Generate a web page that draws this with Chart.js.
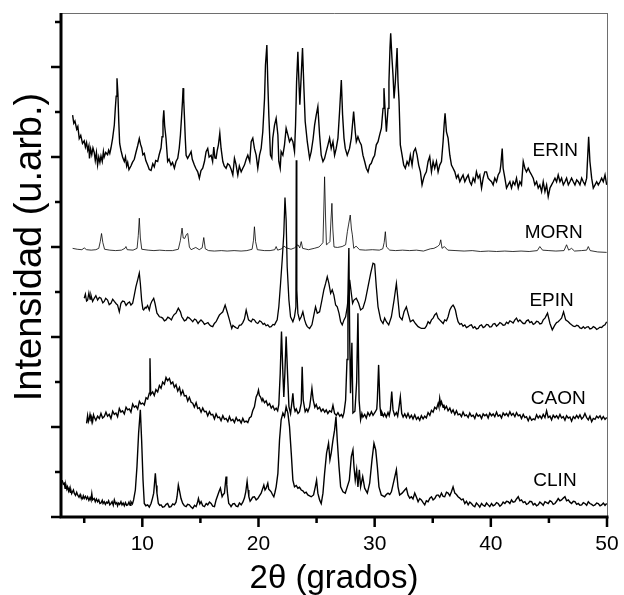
<!DOCTYPE html>
<html>
<head>
<meta charset="utf-8">
<script src="https://cdn.jsdelivr.net/npm/chart.js@4.4.1/dist/chart.umd.min.js"></script>
<style>
body { margin: 0; background: #fff; }
</style>
</head>
<body>
<canvas id="xrdChart" width="624" height="595"></canvas>
<script>
// 2theta (deg) / stacked intensity (arb. units, 1 unit = one y tick)
let erin = [
[4.00,8.93],[4.10,8.75],[4.20,8.80],[4.35,8.62],[4.45,8.68],[4.57,8.41],[4.70,8.48],[4.85,8.30],[5.00,8.36],[5.10,8.22],
[5.20,8.32],[5.30,8.15],[5.40,8.25],[5.45,7.97],[5.55,8.18],[5.65,8.05],[5.75,8.20],[5.86,8.10],[5.95,7.92],[6.05,8.10],
[6.15,7.82],[6.25,8.00],[6.35,7.88],[6.44,8.02],[6.55,7.90],[6.65,8.12],[6.72,8.00],[6.85,8.10],[7.01,8.05],[7.10,8.15],
[7.20,8.08],[7.30,8.20],[7.44,8.41],[7.59,8.71],[7.68,9.10],[7.75,9.35],[7.82,9.75],[7.90,9.40],[7.97,8.80],[8.05,8.30],
[8.16,8.15],[8.30,8.00],[8.45,7.90],[8.55,8.00],[8.65,7.80],[8.74,7.88],[8.85,7.72],[9.02,7.80],[9.15,7.88],[9.31,7.95],
[9.45,8.10],[9.60,8.25],[9.74,8.41],[9.85,8.28],[9.95,8.20],[10.05,8.05],[10.17,8.08],[10.30,7.92],[10.46,7.82],[10.60,7.72],
[10.75,7.70],[10.90,7.85],[11.03,7.78],[11.15,7.92],[11.32,7.90],[11.45,8.05],[11.61,8.20],[11.70,8.45],[11.78,8.80],[11.85,9.04],
[11.92,8.70],[12.04,8.41],[12.18,7.90],[12.30,7.95],[12.47,7.82],[12.60,7.88],[12.76,7.75],[12.90,7.90],[13.05,7.97],[13.18,8.20],
[13.28,8.49],[13.38,8.90],[13.46,9.25],[13.51,9.53],[13.56,9.30],[13.62,8.93],[13.70,8.40],[13.77,8.04],[13.90,7.97],[14.05,8.04],
[14.20,8.12],[14.30,7.95],[14.48,7.82],[14.60,7.75],[14.77,7.67],[14.91,7.53],[15.05,7.70],[15.20,7.75],[15.35,7.90],[15.49,8.12],
[15.63,8.19],[15.75,8.00],[15.92,8.04],[16.05,7.90],[16.15,8.22],[16.25,7.98],[16.35,7.97],[16.45,8.15],[16.55,8.27],[16.67,8.53],
[16.78,8.19],[16.93,7.90],[17.05,7.80],[17.21,7.75],[17.35,7.85],[17.50,7.82],[17.65,7.72],[17.79,7.60],[17.93,7.97],[18.05,7.85],
[18.22,7.60],[18.35,7.80],[18.51,7.67],[18.65,7.75],[18.79,7.82],[18.94,7.95],[19.08,8.04],[19.25,7.90],[19.37,8.34],[19.51,8.42],
[19.65,8.19],[19.80,8.04],[19.94,7.75],[20.09,8.04],[20.23,8.19],[20.37,8.56],[20.52,9.30],[20.60,10.04],[20.72,10.49],[20.80,9.67],
[20.89,8.93],[21.03,8.04],[21.15,7.97],[21.23,8.42],[21.38,8.71],[21.52,8.86],[21.67,8.49],[21.75,7.90],[21.87,7.75],[21.95,8.12],
[22.10,8.04],[22.24,8.27],[22.38,8.64],[22.53,8.49],[22.67,8.34],[22.82,8.42],[22.96,8.34],[23.10,8.12],[23.19,8.71],[23.28,9.67],
[23.39,10.34],[23.48,9.67],[23.56,9.16],[23.68,9.82],[23.79,10.42],[23.91,9.53],[24.02,8.79],[24.20,8.34],[24.40,7.97],[24.54,8.12],
[24.70,8.40],[24.83,8.71],[24.97,8.93],[25.11,9.12],[25.26,8.49],[25.40,8.04],[25.55,7.90],[25.69,7.97],[25.83,8.12],[25.98,8.27],
[26.12,8.42],[26.26,8.19],[26.41,8.34],[26.55,8.04],[26.69,8.19],[26.84,8.42],[26.98,9.01],[27.13,9.71],[27.24,8.93],[27.36,8.42],
[27.47,8.19],[27.64,8.04],[27.84,8.19],[27.99,8.42],[28.19,9.01],[28.33,8.56],[28.42,8.34],[28.56,8.45],[28.71,8.34],[28.85,8.27],
[28.99,8.04],[29.14,7.90],[29.28,7.75],[29.43,7.67],[29.57,7.82],[29.71,7.86],[29.86,7.97],[30.00,8.04],[30.14,8.27],[30.29,8.34],
[30.43,8.49],[30.58,8.64],[30.72,9.08],[30.80,9.53],[30.92,8.93],[31.01,8.56],[31.15,9.08],[31.23,9.67],[31.32,10.42],[31.38,10.75],
[31.49,10.19],[31.58,9.82],[31.67,9.30],[31.78,9.67],[31.93,10.42],[32.01,9.67],[32.10,9.23],[32.21,8.27],[32.36,8.04],[32.50,7.82],
[32.64,7.75],[32.79,7.90],[32.93,7.82],[33.07,8.04],[33.22,7.82],[33.36,8.12],[33.51,8.19],[33.65,8.04],[33.79,7.82],[33.94,7.67],
[34.08,7.38],[34.22,7.53],[34.31,7.60],[34.45,7.67],[34.60,7.90],[34.74,8.01],[34.89,7.67],[35.03,7.90],[35.17,7.75],[35.32,7.90],
[35.46,7.67],[35.60,7.82],[35.75,7.90],[35.89,8.34],[35.98,8.71],[36.06,8.97],[36.18,8.56],[36.32,8.42],[36.47,8.04],[36.61,7.82],
[36.75,7.75],[36.90,7.67],[37.04,7.53],[37.18,7.60],[37.33,7.45],[37.47,7.53],[37.61,7.60],[37.76,7.45],[37.90,7.53],[38.05,7.60],
[38.19,7.45],[38.33,7.38],[38.48,7.53],[38.62,7.45],[38.76,7.67],[38.91,7.53],[39.05,7.60],[39.20,7.31],[39.34,7.53],[39.48,7.67],
[39.63,7.67],[39.77,7.53],[39.91,7.49],[40.06,7.45],[40.20,7.38],[40.34,7.53],[40.49,7.45],[40.63,7.60],[40.78,7.67],[40.86,7.82],
[40.98,8.19],[41.06,7.75],[41.21,7.53],[41.35,7.31],[41.49,7.38],[41.64,7.45],[41.78,7.31],[41.92,7.45],[42.07,7.38],[42.21,7.53],
[42.36,7.31],[42.50,7.45],[42.64,7.38],[42.79,7.90],[42.93,7.75],[43.07,7.67],[43.22,7.75],[43.36,7.67],[43.51,7.60],[43.65,7.53],
[43.79,7.38],[43.94,7.45],[44.08,7.31],[44.22,7.38],[44.37,7.23],[44.51,7.45],[44.66,7.23],[44.80,7.38],[44.94,7.12],[45.09,7.31],
[45.23,7.38],[45.37,7.45],[45.52,7.53],[45.66,7.45],[45.80,7.60],[45.95,7.45],[46.09,7.53],[46.24,7.38],[46.38,7.45],[46.52,7.53],
[46.67,7.38],[46.81,7.45],[46.95,7.53],[47.10,7.45],[47.24,7.38],[47.39,7.49],[47.53,7.45],[47.67,7.38],[47.82,7.53],[47.96,7.45],
[48.10,7.38],[48.25,7.53],[48.33,7.97],[48.42,8.45],[48.53,7.90],[48.68,7.53],[48.82,7.31],[48.97,7.38],[49.11,7.45],[49.25,7.38],
[49.40,7.45],[49.54,7.53],[49.68,7.45],[49.83,7.60],[49.97,7.38]
];

let morn = [
[4.00,5.97],[4.40,5.95],[4.80,5.94],[5.00,5.98],[5.20,5.94],[5.60,5.93],[6.00,5.94],[6.25,5.97],[6.38,6.12],[6.49,6.30],
[6.60,6.10],[6.75,5.95],[7.20,5.93],[7.70,5.92],[8.20,5.93],[8.50,5.97],[8.59,6.01],[8.70,5.94],[9.20,5.93],[9.55,5.97],
[9.65,6.25],[9.74,6.64],[9.83,6.20],[9.95,5.95],[10.50,5.93],[11.00,5.92],[11.50,5.93],[12.00,5.92],[12.60,5.92],[13.10,5.95],
[13.28,6.15],[13.42,6.42],[13.52,6.20],[13.65,6.19],[13.80,6.28],[13.91,6.30],[14.05,6.00],[14.20,5.94],[14.60,5.99],[14.90,5.94],
[15.15,5.98],[15.29,6.21],[15.42,5.96],[15.70,5.92],[16.20,5.91],[16.80,5.92],[17.30,5.91],[17.90,5.92],[18.50,5.91],[19.00,5.92],
[19.45,5.95],[19.57,6.15],[19.65,6.45],[19.75,6.12],[19.90,5.94],[20.50,5.92],[21.00,5.92],[21.40,5.94],[21.52,6.01],[21.65,5.93],
[22.00,5.96],[22.20,6.02],[22.40,5.98],[22.80,5.95],[23.10,5.98],[23.40,6.05],[23.55,5.98],[23.68,6.12],[23.80,5.97],[24.30,5.94],
[24.80,5.97],[25.20,6.00],[25.40,6.05],[25.55,6.10],[25.62,6.80],[25.69,7.56],[25.78,6.60],[25.85,6.05],[26.00,6.08],[26.15,6.12],
[26.24,6.60],[26.32,6.97],[26.40,6.40],[26.50,6.00],[26.80,5.99],[27.20,6.01],[27.50,6.05],[27.65,6.34],[27.75,6.49],[27.90,6.71],
[28.00,6.40],[28.08,6.27],[28.20,5.97],[28.40,6.02],[28.70,5.94],[29.20,5.93],[29.80,5.94],[30.40,5.93],[30.70,5.96],[30.82,6.10],
[30.92,6.34],[31.02,6.00],[31.30,5.93],[31.80,5.92],[32.40,5.93],[33.00,5.92],[33.60,5.93],[34.20,5.91],[34.80,5.96],[35.10,5.97],
[35.40,6.01],[35.58,6.05],[35.69,6.16],[35.80,5.97],[36.00,6.01],[36.30,5.93],[37.00,5.92],[37.70,5.91],[38.40,5.92],[39.10,5.90],
[39.80,5.91],[40.50,5.90],[41.20,5.91],[41.90,5.90],[42.60,5.91],[43.30,5.90],[44.00,5.92],[44.22,6.01],[44.45,5.93],[45.00,5.92],
[45.60,5.91],[46.30,5.92],[46.52,6.05],[46.70,5.93],[46.95,5.97],[47.20,5.91],[47.80,5.92],[48.25,5.93],[48.39,6.01],[48.55,5.92],
[49.20,5.89],[49.97,5.88]
];

let epin = [
[5.00,4.86],[5.10,4.95],[5.20,4.80],[5.29,4.82],[5.40,4.98],[5.50,4.84],[5.58,4.93],[5.72,4.79],[5.86,4.86],[6.00,4.92],
[6.15,4.82],[6.30,4.88],[6.44,4.86],[6.60,4.76],[6.72,4.79],[6.85,4.86],[7.01,4.82],[7.15,4.72],[7.30,4.75],[7.45,4.84],
[7.59,4.79],[7.75,4.74],[7.87,4.71],[8.02,4.56],[8.16,4.75],[8.30,4.80],[8.45,4.79],[8.60,4.70],[8.74,4.75],[8.90,4.78],
[9.02,4.71],[9.17,4.75],[9.31,4.93],[9.45,5.12],[9.60,5.27],[9.74,5.42],[9.83,5.19],[9.94,4.82],[10.05,4.62],[10.12,4.60],
[10.25,4.66],[10.32,4.64],[10.45,4.70],[10.60,4.60],[10.70,4.72],[10.81,4.79],[10.98,4.86],[11.09,4.75],[11.26,4.53],[11.40,4.48],
[11.47,4.45],[11.60,4.44],[11.75,4.42],[11.90,4.36],[12.04,4.38],[12.20,4.44],[12.33,4.42],[12.50,4.38],[12.62,4.45],[12.75,4.50],
[12.90,4.53],[13.10,4.64],[13.28,4.56],[13.40,4.45],[13.48,4.42],[13.62,4.36],[13.77,4.38],[13.90,4.44],[14.05,4.42],[14.20,4.38],
[14.34,4.34],[14.50,4.40],[14.63,4.38],[14.80,4.30],[14.91,4.34],[15.05,4.38],[15.20,4.34],[15.35,4.28],[15.49,4.30],[15.65,4.32],
[15.78,4.27],[15.92,4.24],[16.06,4.23],[16.20,4.30],[16.35,4.34],[16.50,4.42],[16.64,4.49],[16.80,4.53],[16.93,4.56],[17.13,4.71],
[17.30,4.56],[17.50,4.38],[17.60,4.28],[17.70,4.19],[17.80,4.26],[17.93,4.23],[18.10,4.20],[18.22,4.19],[18.35,4.26],[18.51,4.27],
[18.65,4.32],[18.79,4.40],[18.94,4.60],[19.14,4.38],[19.37,4.34],[19.50,4.40],[19.65,4.38],[19.80,4.32],[19.94,4.30],[20.10,4.36],
[20.23,4.34],[20.40,4.28],[20.52,4.30],[20.65,4.25],[20.80,4.27],[20.95,4.22],[21.09,4.23],[21.25,4.28],[21.38,4.27],[21.50,4.33],
[21.61,4.38],[21.75,4.67],[21.90,5.19],[22.04,5.71],[22.18,6.30],[22.28,7.10],[22.38,6.60],[22.47,5.56],[22.62,4.82],[22.76,4.45],
[22.96,4.34],[23.10,4.45],[23.22,4.67],[23.25,7.93],[23.30,5.05],[23.39,4.53],[23.53,4.38],[23.68,4.45],[23.82,4.56],[23.97,4.38],
[24.10,4.28],[24.20,4.23],[24.40,4.19],[24.60,4.27],[24.77,4.49],[24.91,4.67],[25.06,4.53],[25.26,4.56],[25.46,4.82],[25.63,5.05],
[25.78,5.19],[25.92,5.34],[26.06,5.19],[26.21,4.97],[26.35,5.05],[26.49,4.93],[26.64,4.71],[26.78,4.67],[26.93,4.53],[27.07,4.34],
[27.21,4.27],[27.36,4.38],[27.50,4.45],[27.64,4.67],[27.78,5.00],[27.85,5.27],[27.99,4.97],[28.10,4.75],[28.22,4.82],[28.42,4.86],
[28.62,4.75],[28.79,4.60],[28.99,4.64],[29.20,4.82],[29.43,5.12],[29.66,5.42],[29.86,5.64],[30.00,5.62],[30.14,5.12],[30.29,4.67],
[30.52,4.38],[30.72,4.30],[30.86,4.42],[31.01,4.34],[31.21,4.27],[31.44,4.45],[31.67,4.82],[31.87,5.19],[32.01,4.82],[32.15,4.45],
[32.36,4.38],[32.53,4.56],[32.73,4.67],[32.87,4.53],[33.07,4.34],[33.30,4.38],[33.51,4.30],[33.74,4.23],[34.02,4.19],[34.31,4.19],
[34.45,4.24],[34.60,4.34],[34.75,4.30],[34.89,4.38],[35.03,4.42],[35.17,4.49],[35.32,4.53],[35.46,4.42],[35.60,4.38],[35.75,4.34],
[35.90,4.30],[36.03,4.38],[36.18,4.36],[36.32,4.45],[36.47,4.60],[36.61,4.67],[36.75,4.71],[36.84,4.67],[36.95,4.60],[37.07,4.45],
[37.18,4.34],[37.33,4.28],[37.47,4.30],[37.61,4.24],[37.76,4.27],[37.90,4.21],[38.05,4.23],[38.19,4.26],[38.33,4.27],[38.48,4.20],
[38.62,4.23],[38.76,4.18],[38.91,4.19],[39.05,4.25],[39.20,4.27],[39.34,4.21],[39.48,4.23],[39.63,4.28],[39.77,4.27],[39.91,4.22],
[40.06,4.23],[40.20,4.29],[40.34,4.30],[40.49,4.24],[40.63,4.27],[40.78,4.32],[40.92,4.30],[41.06,4.26],[41.21,4.27],[41.35,4.33],
[41.49,4.30],[41.64,4.36],[41.78,4.34],[41.92,4.31],[42.07,4.38],[42.21,4.42],[42.36,4.34],[42.50,4.38],[42.64,4.34],[42.79,4.30],
[42.93,4.30],[43.07,4.36],[43.22,4.38],[43.36,4.32],[43.51,4.34],[43.65,4.28],[43.79,4.30],[43.94,4.35],[44.08,4.34],[44.22,4.29],
[44.37,4.30],[44.51,4.38],[44.66,4.42],[44.88,4.53],[45.09,4.30],[45.29,4.16],[45.52,4.27],[45.66,4.32],[45.80,4.34],[45.95,4.38],
[46.09,4.42],[46.26,4.56],[46.44,4.38],[46.67,4.34],[46.81,4.30],[46.95,4.27],[47.10,4.24],[47.24,4.23],[47.39,4.26],[47.53,4.25],
[47.67,4.20],[47.82,4.19],[47.96,4.23],[48.10,4.19],[48.25,4.22],[48.39,4.23],[48.53,4.18],[48.68,4.19],[48.82,4.23],[48.97,4.21],
[49.11,4.17],[49.25,4.19],[49.40,4.22],[49.54,4.21],[49.68,4.25],[49.83,4.27],[49.97,4.34]
];

let caon = [
[5.20,2.08],[5.29,2.25],[5.36,2.12],[5.43,2.17],[5.50,2.28],[5.58,2.18],[5.65,2.21],[5.72,2.12],[5.80,2.27],[5.86,2.22],
[6.00,2.15],[6.15,2.24],[6.30,2.19],[6.44,2.30],[6.58,2.20],[6.72,2.23],[6.87,2.33],[7.01,2.24],[7.15,2.28],[7.30,2.19],
[7.45,2.35],[7.59,2.28],[7.73,2.31],[7.87,2.23],[8.02,2.41],[8.16,2.33],[8.30,2.36],[8.45,2.29],[8.60,2.44],[8.74,2.38],
[8.88,2.40],[9.02,2.33],[9.17,2.51],[9.31,2.44],[9.45,2.47],[9.60,2.40],[9.75,2.57],[9.89,2.51],[10.03,2.53],[10.17,2.49],
[10.32,2.65],[10.46,2.62],[10.60,2.75],[10.66,3.53],[10.72,2.72],[10.89,2.78],[11.03,2.70],[11.17,2.83],[11.32,2.78],[11.47,2.92],
[11.61,2.86],[11.75,3.00],[11.90,2.95],[12.04,3.10],[12.18,3.03],[12.33,3.08],[12.47,2.96],[12.62,3.00],[12.76,2.88],[12.90,2.94],
[13.05,2.80],[13.20,2.88],[13.33,2.72],[13.48,2.81],[13.62,2.69],[13.77,2.70],[13.91,2.58],[14.05,2.66],[14.20,2.55],[14.34,2.53],
[14.48,2.44],[14.63,2.54],[14.77,2.41],[14.91,2.43],[15.06,2.33],[15.20,2.42],[15.35,2.34],[15.49,2.35],[15.63,2.25],[15.78,2.34],
[15.92,2.27],[16.06,2.28],[16.21,2.18],[16.35,2.29],[16.50,2.21],[16.64,2.22],[16.78,2.14],[16.93,2.25],[17.07,2.17],[17.21,2.19],
[17.36,2.12],[17.50,2.23],[17.64,2.14],[17.79,2.17],[17.93,2.10],[18.08,2.21],[18.22,2.14],[18.36,2.16],[18.51,2.09],[18.65,2.19],
[18.79,2.11],[18.94,2.13],[19.08,2.10],[19.22,2.20],[19.37,2.23],[19.50,2.36],[19.65,2.45],[19.80,2.67],[19.92,2.74],[20.00,2.82],
[20.08,2.70],[20.17,2.67],[20.30,2.58],[20.37,2.63],[20.52,2.54],[20.66,2.58],[20.80,2.48],[20.95,2.52],[21.10,2.42],[21.24,2.47],
[21.38,2.38],[21.52,2.42],[21.65,2.36],[21.75,2.50],[21.87,3.19],[21.98,4.12],[22.10,3.19],[22.18,2.67],[22.27,3.19],[22.38,4.01],
[22.50,3.19],[22.62,2.45],[22.76,2.30],[22.87,2.53],[22.96,2.75],[23.05,2.45],[23.15,2.35],[23.25,2.40],[23.40,2.30],[23.53,2.34],
[23.68,2.53],[23.76,3.34],[23.85,2.60],[24.02,2.34],[24.15,2.40],[24.25,2.34],[24.40,2.45],[24.48,2.60],[24.60,2.86],[24.71,2.60],
[24.85,2.44],[24.97,2.50],[25.10,2.40],[25.26,2.44],[25.40,2.35],[25.55,2.40],[25.70,2.33],[25.83,2.38],[25.97,2.30],[26.12,2.36],
[26.28,2.33],[26.41,2.48],[26.55,2.30],[26.70,2.26],[26.84,2.32],[27.00,2.24],[27.13,2.28],[27.25,2.22],[27.36,2.32],[27.50,2.60],
[27.62,3.50],[27.70,4.90],[27.78,5.98],[27.85,4.00],[27.92,2.75],[28.04,3.87],[28.13,2.31],[28.30,2.35],[28.45,3.00],[28.56,4.53],
[28.66,2.60],[28.79,2.16],[28.90,2.30],[28.99,2.22],[29.14,2.28],[29.28,2.20],[29.42,2.32],[29.57,2.25],[29.72,2.34],[29.86,2.26],
[30.06,2.34],[30.18,2.40],[30.23,2.60],[30.34,3.38],[30.46,2.45],[30.55,2.26],[30.63,2.32],[30.75,2.24],[30.86,2.30],[31.00,2.22],
[31.15,2.32],[31.25,2.25],[31.35,2.38],[31.47,2.79],[31.58,2.38],[31.72,2.26],[31.87,2.32],[31.98,2.24],[32.10,2.45],[32.21,2.67],
[32.33,2.30],[32.45,2.22],[32.59,2.29],[32.73,2.21],[32.87,2.30],[33.02,2.20],[33.16,2.26],[33.30,2.18],[33.45,2.27],[33.60,2.17],
[33.74,2.22],[33.88,2.15],[34.02,2.25],[34.17,2.18],[34.31,2.24],[34.45,2.20],[34.60,2.32],[34.75,2.26],[34.89,2.37],[35.03,2.33],
[35.17,2.44],[35.32,2.40],[35.46,2.52],[35.53,2.45],[35.60,2.64],[35.68,2.50],[35.75,2.56],[35.89,2.44],[35.96,2.50],[36.03,2.40],
[36.18,2.46],[36.32,2.36],[36.47,2.42],[36.61,2.32],[36.75,2.38],[36.90,2.28],[37.04,2.36],[37.18,2.27],[37.33,2.29],[37.47,2.23],
[37.61,2.33],[37.76,2.25],[37.90,2.27],[38.05,2.21],[38.19,2.31],[38.33,2.24],[38.48,2.26],[38.62,2.19],[38.76,2.30],[38.91,2.24],
[39.05,2.27],[39.20,2.19],[39.34,2.29],[39.48,2.25],[39.63,2.28],[39.77,2.20],[39.91,2.31],[40.06,2.25],[40.20,2.29],[40.34,2.23],
[40.49,2.33],[40.63,2.24],[40.78,2.27],[40.92,2.20],[41.06,2.31],[41.21,2.26],[41.35,2.30],[41.49,2.24],[41.64,2.34],[41.78,2.26],
[41.92,2.30],[42.07,2.23],[42.21,2.32],[42.36,2.25],[42.50,2.27],[42.64,2.19],[42.79,2.28],[42.93,2.21],[43.07,2.23],[43.22,2.14],
[43.36,2.23],[43.51,2.15],[43.65,2.18],[43.79,2.16],[43.94,2.27],[44.08,2.20],[44.22,2.25],[44.37,2.19],[44.51,2.28],[44.66,2.21],
[44.80,2.36],[44.94,2.21],[45.09,2.24],[45.23,2.16],[45.37,2.26],[45.52,2.21],[45.66,2.25],[45.80,2.19],[45.95,2.28],[46.09,2.20],
[46.24,2.23],[46.38,2.15],[46.52,2.25],[46.67,2.20],[46.81,2.22],[46.95,2.13],[47.10,2.23],[47.24,2.19],[47.39,2.26],[47.53,2.20],
[47.67,2.27],[47.82,2.18],[47.96,2.22],[48.10,2.30],[48.25,2.21],[48.39,2.16],[48.53,2.24],[48.68,2.12],[48.82,2.19],[48.97,2.17],
[49.11,2.24],[49.25,2.20],[49.40,2.25],[49.54,2.17],[49.68,2.23],[49.83,2.17],[49.97,2.21]
];

let clin = [
[3.10,0.82],[3.20,0.73],[3.28,0.75],[3.35,0.64],[3.42,0.71],[3.50,0.62],[3.56,0.67],[3.65,0.58],[3.71,0.64],[3.80,0.55],
[3.85,0.60],[3.92,0.52],[3.99,0.56],[4.07,0.60],[4.14,0.53],[4.25,0.48],[4.35,0.55],[4.43,0.49],[4.55,0.44],[4.65,0.50],
[4.71,0.45],[4.85,0.41],[4.92,0.47],[5.00,0.41],[5.10,0.46],[5.20,0.40],[5.29,0.45],[5.40,0.37],[5.50,0.43],[5.58,0.38],
[5.65,0.52],[5.72,0.38],[5.86,0.41],[5.95,0.34],[6.05,0.40],[6.15,0.34],[6.25,0.38],[6.35,0.30],[6.44,0.31],[6.55,0.37],
[6.62,0.30],[6.72,0.34],[6.82,0.28],[6.92,0.33],[7.01,0.31],[7.10,0.36],[7.20,0.27],[7.30,0.30],[7.40,0.34],[7.50,0.26],
[7.59,0.38],[7.70,0.29],[7.80,0.32],[7.87,0.25],[7.95,0.31],[8.05,0.28],[8.16,0.34],[8.25,0.27],[8.35,0.31],[8.45,0.25],
[8.55,0.32],[8.65,0.26],[8.74,0.27],[8.85,0.33],[8.95,0.26],[9.02,0.34],[9.15,0.29],[9.25,0.38],[9.40,0.60],[9.54,1.12],
[9.68,1.86],[9.83,2.38],[9.94,1.71],[10.06,0.82],[10.17,0.30],[10.30,0.25],[10.46,0.27],[10.60,0.22],[10.75,0.30],[10.88,0.42],
[10.98,0.53],[11.05,0.75],[11.12,0.97],[11.20,0.70],[11.26,0.53],[11.38,0.30],[11.50,0.26],[11.61,0.27],[11.75,0.22],[11.90,0.23],
[12.05,0.28],[12.18,0.30],[12.32,0.22],[12.47,0.23],[12.62,0.29],[12.76,0.27],[12.90,0.33],[12.99,0.45],[13.10,0.71],[13.22,0.56],
[13.33,0.41],[13.48,0.30],[13.62,0.25],[13.77,0.23],[13.90,0.28],[14.05,0.27],[14.20,0.22],[14.34,0.19],[14.50,0.26],[14.63,0.23],
[14.75,0.32],[14.83,0.41],[14.95,0.29],[15.06,0.34],[15.20,0.25],[15.35,0.23],[15.50,0.30],[15.63,0.27],[15.78,0.33],[15.92,0.30],
[16.06,0.24],[16.21,0.23],[16.35,0.38],[16.50,0.49],[16.62,0.58],[16.72,0.64],[16.87,0.45],[16.97,0.50],[17.07,0.53],[17.15,0.75],
[17.21,0.90],[17.27,0.72],[17.33,0.53],[17.44,0.30],[17.55,0.27],[17.64,0.23],[17.79,0.29],[17.93,0.30],[18.08,0.24],[18.22,0.23],
[18.36,0.31],[18.51,0.27],[18.65,0.33],[18.79,0.42],[18.90,0.55],[19.02,0.79],[19.10,0.60],[19.17,0.45],[19.28,0.35],[19.37,0.38],
[19.50,0.44],[19.65,0.45],[19.80,0.38],[19.94,0.41],[20.08,0.47],[20.23,0.53],[20.35,0.62],[20.46,0.71],[20.56,0.60],[20.66,0.64],
[20.80,0.75],[20.88,0.62],[20.95,0.60],[21.09,0.56],[21.20,0.50],[21.32,0.45],[21.42,0.55],[21.52,0.67],[21.67,0.97],[21.81,1.71],
[21.95,2.16],[22.10,2.31],[22.24,2.23],[22.38,2.45],[22.53,2.31],[22.67,2.01],[22.82,1.42],[22.96,0.82],[23.10,0.67],[23.25,0.70],
[23.39,0.64],[23.53,0.66],[23.68,0.60],[23.82,0.58],[23.97,0.53],[24.10,0.55],[24.25,0.49],[24.40,0.47],[24.54,0.45],[24.74,0.49],
[24.89,0.67],[25.00,0.82],[25.11,0.53],[25.26,0.38],[25.40,0.30],[25.55,0.53],[25.69,0.97],[25.86,1.42],[26.03,1.64],[26.15,1.27],
[26.26,1.42],[26.41,1.71],[26.55,1.93],[26.67,2.23],[26.78,1.71],[26.93,1.12],[27.07,0.67],[27.27,0.56],[27.47,0.53],[27.64,0.67],
[27.82,0.82],[27.99,1.34],[28.13,1.49],[28.22,1.12],[28.33,0.82],[28.45,1.05],[28.56,0.67],[28.68,1.05],[28.79,0.67],[28.97,0.90],
[29.14,0.64],[29.37,0.53],[29.57,0.75],[29.77,1.27],[29.94,1.64],[30.09,1.49],[30.23,1.12],[30.37,0.67],[30.57,0.49],[30.86,0.45],
[31.00,0.50],[31.15,0.53],[31.30,0.50],[31.44,0.56],[31.67,0.82],[31.87,1.05],[32.01,0.67],[32.15,0.49],[32.36,0.53],[32.59,0.60],
[32.73,0.64],[32.87,0.49],[33.02,0.42],[33.16,0.45],[33.30,0.40],[33.45,0.53],[33.60,0.44],[33.74,0.34],[33.88,0.41],[34.02,0.38],
[34.17,0.32],[34.31,0.27],[34.45,0.36],[34.60,0.34],[34.75,0.42],[34.89,0.45],[35.03,0.38],[35.17,0.41],[35.32,0.48],[35.46,0.49],
[35.60,0.44],[35.75,0.53],[35.89,0.46],[36.03,0.45],[36.18,0.55],[36.32,0.53],[36.47,0.47],[36.61,0.56],[36.75,0.67],[36.90,0.53],
[37.04,0.50],[37.18,0.45],[37.33,0.42],[37.47,0.38],[37.61,0.40],[37.76,0.30],[37.90,0.35],[38.05,0.27],[38.19,0.33],[38.33,0.30],
[38.48,0.25],[38.62,0.23],[38.76,0.31],[38.91,0.27],[39.05,0.22],[39.20,0.30],[39.34,0.26],[39.48,0.24],[39.63,0.31],[39.77,0.27],
[39.91,0.23],[40.06,0.30],[40.20,0.25],[40.34,0.27],[40.49,0.32],[40.63,0.30],[40.78,0.24],[40.92,0.27],[41.06,0.33],[41.21,0.30],
[41.35,0.35],[41.49,0.34],[41.64,0.30],[41.78,0.38],[41.92,0.33],[42.07,0.34],[42.21,0.40],[42.36,0.45],[42.50,0.36],[42.64,0.38],
[42.79,0.32],[42.93,0.34],[43.07,0.28],[43.22,0.30],[43.36,0.35],[43.51,0.34],[43.65,0.27],[43.79,0.30],[43.94,0.25],[44.08,0.27],
[44.22,0.33],[44.37,0.30],[44.51,0.26],[44.66,0.34],[44.80,0.32],[44.94,0.30],[45.09,0.36],[45.23,0.34],[45.37,0.28],[45.52,0.30],
[45.66,0.35],[45.80,0.41],[45.95,0.36],[46.09,0.38],[46.24,0.42],[46.38,0.45],[46.52,0.36],[46.67,0.38],[46.81,0.33],[46.95,0.30],
[47.10,0.35],[47.24,0.34],[47.39,0.28],[47.53,0.30],[47.67,0.26],[47.82,0.27],[47.96,0.32],[48.10,0.30],[48.25,0.26],[48.39,0.34],
[48.53,0.30],[48.68,0.28],[48.82,0.25],[48.97,0.27],[49.11,0.31],[49.25,0.30],[49.40,0.25],[49.54,0.27],[49.68,0.31],[49.83,0.26],
[49.97,0.30]
];

let sampleNames = ["ERIN", "MORN", "EPIN", "CAON", "CLIN"];
let labelAngles = [45.54, 45.41, 45.23, 45.80, 45.52];
let labelLevels = [8.14, 6.32, 4.80, 2.62, 0.81];

let xMajorTicks = [10, 20, 30, 40, 50];
let xMinorTicks = [5, 15, 25, 35, 45];
let yTicks = [0, 1, 2, 3, 4, 5, 6, 7, 8, 9, 10, 11];

let fontName = "'Liberation Sans', Arial, Helvetica, sans-serif";

function tickLine(ctx, x1, y1, x2, y2) {
	ctx.moveTo(x1, y1);
	ctx.lineTo(x2, y2);
}

// axes box, tick marks, sample names and titles
let framePlugin = {
	id: "framePlugin",
	afterDraw: function (chart) {
		let ctx = chart.ctx;
		let area = chart.chartArea;
		let xScale = chart.scales.x;
		let yScale = chart.scales.y;

		ctx.save();

		ctx.strokeStyle = "#6e6e6e";
		ctx.lineWidth = 1;
		ctx.beginPath();
		tickLine(ctx, area.left, area.top + 0.5, area.right + 0.5, area.top + 0.5);
		tickLine(ctx, area.right + 0.5, area.top, area.right + 0.5, area.bottom);
		ctx.stroke();

		ctx.strokeStyle = "#000";
		ctx.lineWidth = 3;
		ctx.beginPath();
		tickLine(ctx, area.left, area.top, area.left, area.bottom + 1.5);
		tickLine(ctx, area.left - 1.5, area.bottom, area.right + 1.5, area.bottom);
		ctx.stroke();

		ctx.lineWidth = 2.5;
		ctx.beginPath();
		for (let i = 0; i < yTicks.length; i++) {
			let py = yScale.getPixelForValue(yTicks[i]);
			let len = yTicks[i] % 2 == 0 ? 10 : 6;
			tickLine(ctx, area.left, py, area.left - len, py);
		}
		for (let i = 0; i < xMajorTicks.length; i++) {
			let px = xScale.getPixelForValue(xMajorTicks[i]);
			tickLine(ctx, px, area.bottom, px, area.bottom + 10);
		}
		for (let i = 0; i < xMinorTicks.length; i++) {
			let px = xScale.getPixelForValue(xMinorTicks[i]);
			tickLine(ctx, px, area.bottom, px, area.bottom + 6);
		}
		ctx.stroke();

		ctx.fillStyle = "#000";
		ctx.textAlign = "center";
		ctx.textBaseline = "middle";
		ctx.font = "19px " + fontName;
		for (let i = 0; i < sampleNames.length; i++) {
			ctx.fillText(sampleNames[i], xScale.getPixelForValue(labelAngles[i]), yScale.getPixelForValue(labelLevels[i]));
		}

		ctx.textBaseline = "alphabetic";
		ctx.font = "33px " + fontName;
		ctx.fillText("2\u03B8 (grados)", (area.left + area.right) / 2, chart.height - 7);

		ctx.translate(41, 247);
		ctx.rotate(-Math.PI / 2);
		ctx.font = "38px " + fontName;
		ctx.fillText("Intensidad (u.arb.)", 0, 0);

		ctx.restore();
	}
};

function makeSet(name, points, width) {
	return {
		label: name,
		data: points,
		borderColor: "#000",
		borderWidth: width,
		pointRadius: 0,
		tension: 0,
		fill: false
	};
}

let config = {
	type: "line",
	data: {
		datasets: [
			makeSet("ERIN", erin, 1.4),
			makeSet("MORN", morn, 0.8),
			makeSet("EPIN", epin, 1.3),
			makeSet("CAON", caon, 1.4),
			makeSet("CLIN", clin, 1.4)
		]
	},
	options: {
		responsive: false,
		animation: false,
		events: [],
		layout: { padding: { left: 0, right: 17, top: 13, bottom: 0 } },
		plugins: {
			legend: { display: false },
			tooltip: { enabled: false }
		},
		scales: {
			x: {
				type: "linear",
				min: 3,
				max: 50,
				grid: { display: false, drawTicks: false },
				border: { display: false },
				afterBuildTicks: function (scale) {
					scale.ticks = xMajorTicks.map(v => ({ value: v }));
				},
				afterFit: function (scale) {
					scale.height = 78;
					scale.paddingLeft = 0;
					scale.paddingRight = 0;
				},
				ticks: {
					color: "#000",
					padding: 15,
					maxRotation: 0,
					font: { family: fontName, size: 21 }
				}
			},
			y: {
				type: "linear",
				min: 0,
				max: 11.2,
				grid: { display: false, drawTicks: false },
				border: { display: false },
				ticks: { display: false },
				afterFit: function (scale) {
					scale.width = 61;
					scale.paddingTop = 0;
					scale.paddingBottom = 0;
				}
			}
		}
	},
	plugins: [framePlugin]
};

let xrdChart = new Chart(document.getElementById("xrdChart").getContext("2d"), config);
</script>
</body>
</html>
